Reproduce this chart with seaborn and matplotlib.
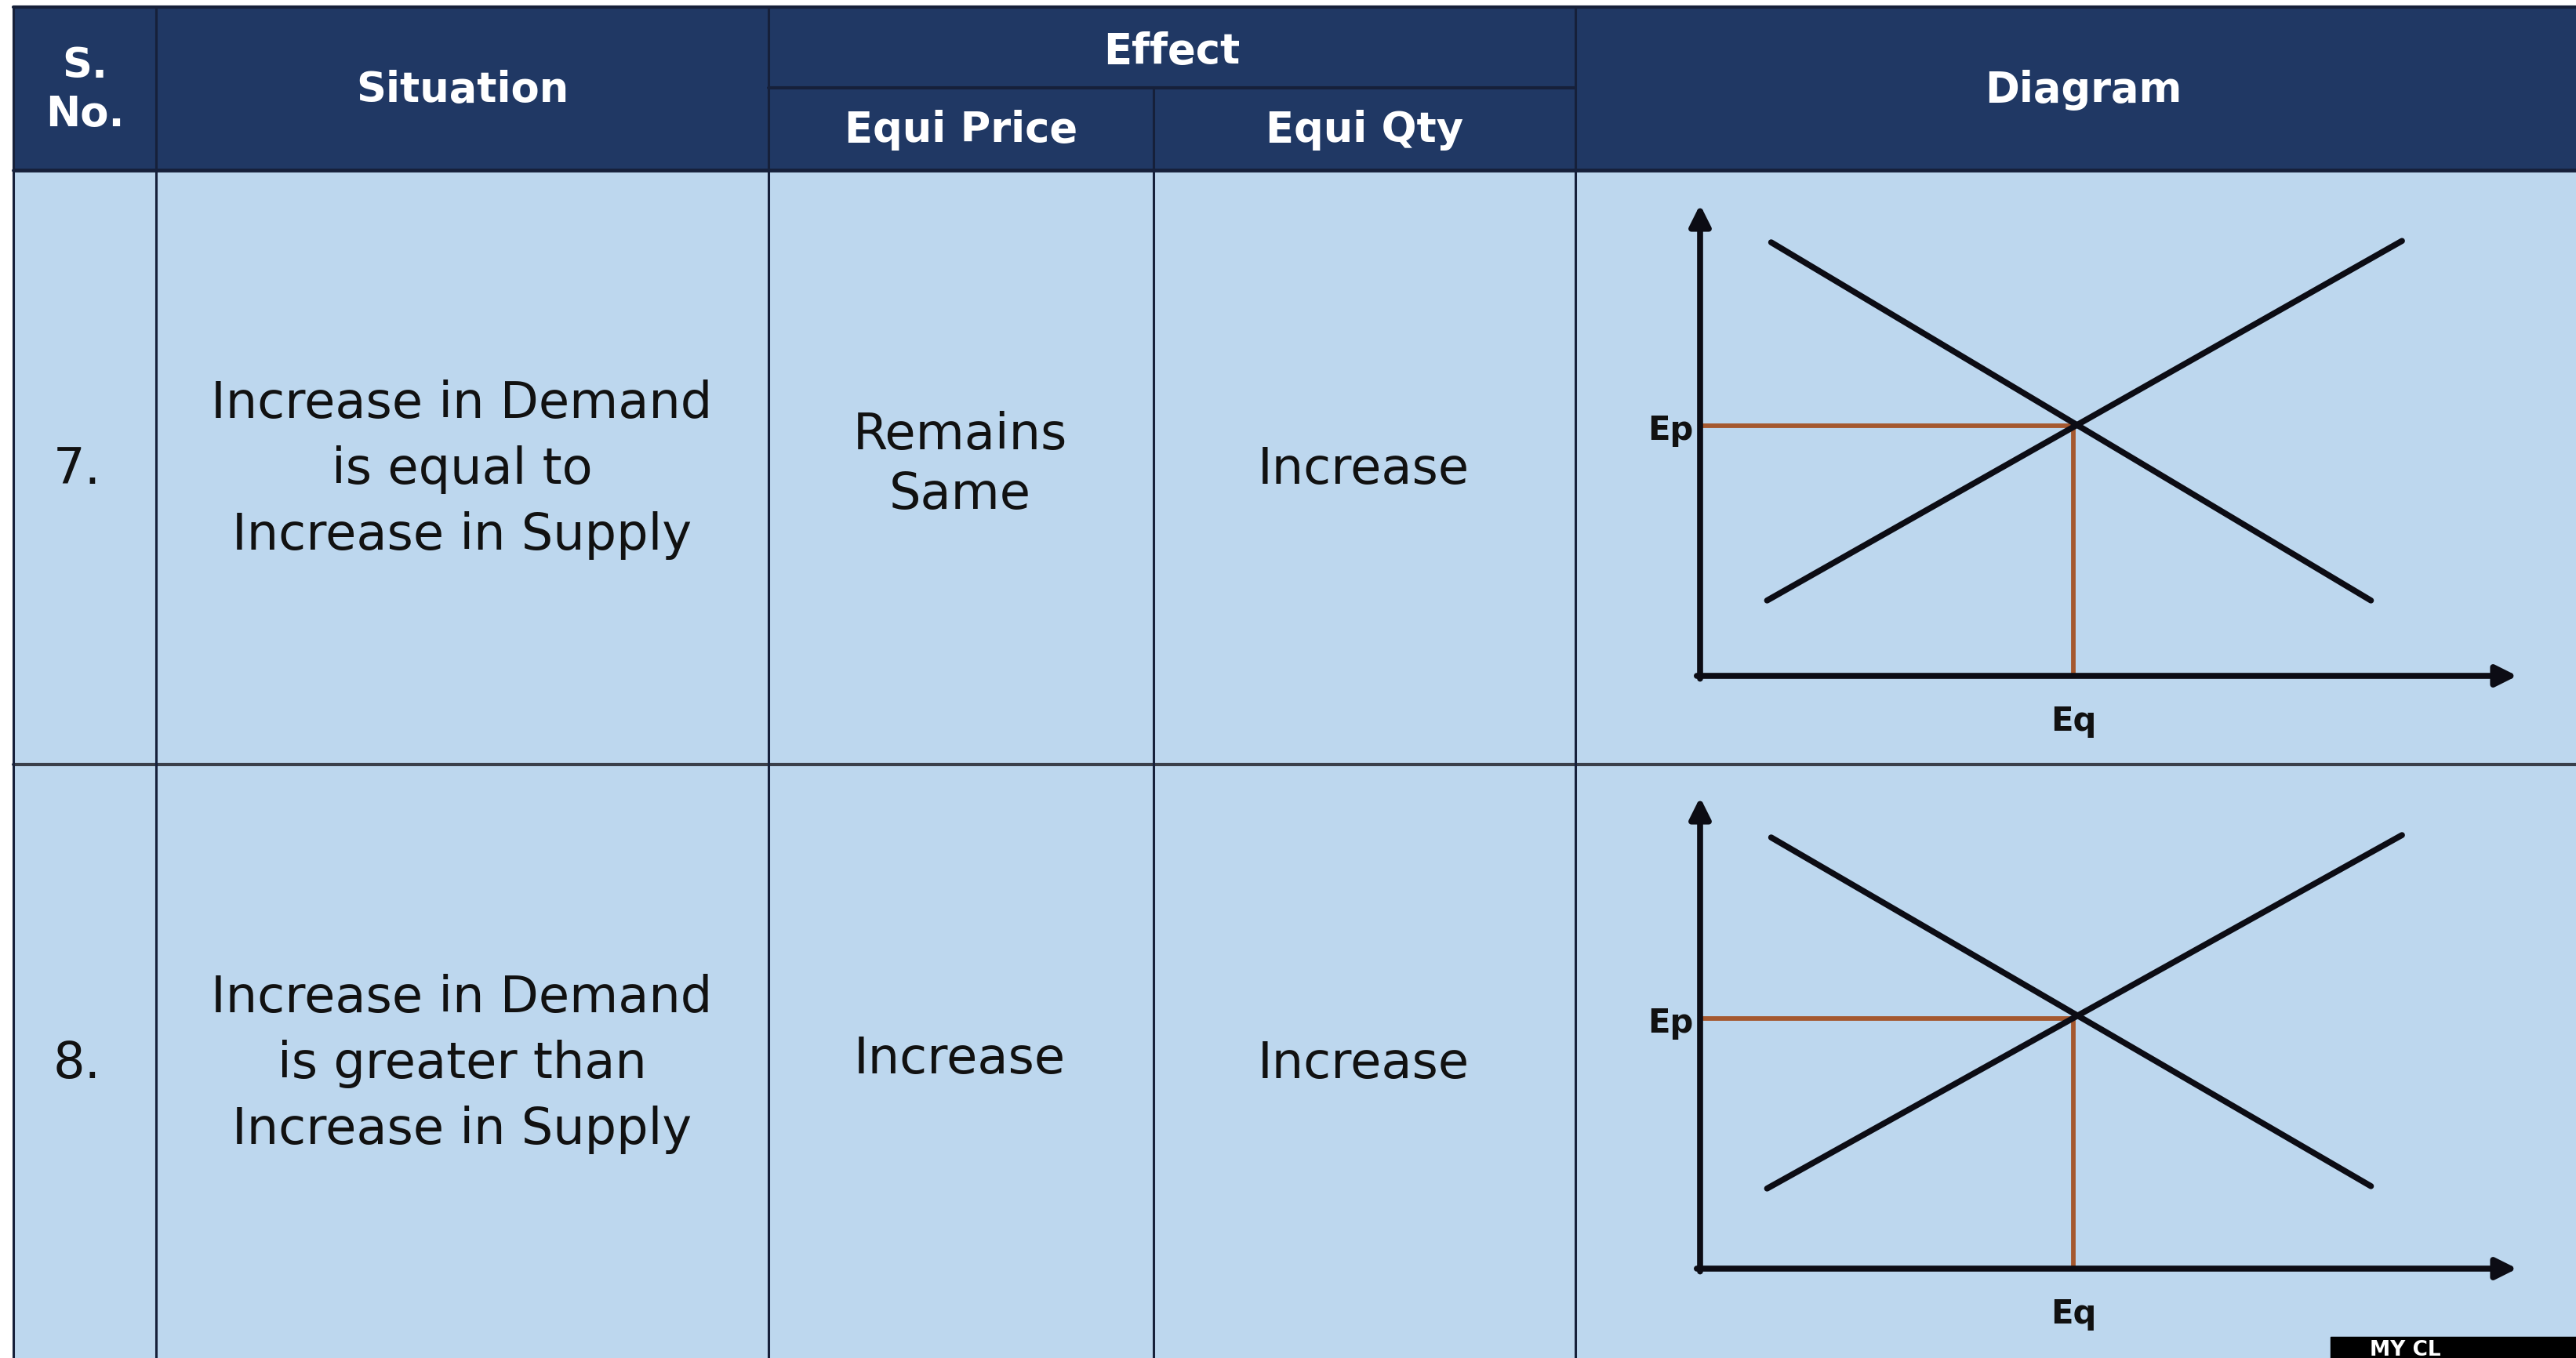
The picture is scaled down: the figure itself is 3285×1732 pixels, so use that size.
import numpy as np
import pandas as pd
import seaborn as sns
import matplotlib.pyplot as plt
from matplotlib.patches import Rectangle

sns.set_style("white")
plt.rcParams['font.family'] = ['DejaVu Sans']

# table content
serial_no = ['7.', '8.']
situations = ['Increase in Demand\nis equal to\nIncrease in Supply',
              'Increase in Demand\nis greater than\nIncrease in Supply']
equi_price = ['Remains\nSame', 'Increase']
equi_qty = ['Increase', 'Increase']
header_top = ['S.\nNo.', 'Situation', 'Effect', 'Diagram']
header_sub = ['Equi Price', 'Equi Qty']

# diagram lines (quantity on x, price on y, axis runs 0..10)
demand_q = [[0.87, 8.21], [0.87, 8.21]]
demand_p = [[9.20, 1.60], [9.15, 1.75]]
supply_q = [[0.82, 8.59], [0.82, 8.59]]
supply_p = [[1.60, 9.23], [1.70, 9.20]]
eq_qty = [4.57, 4.57]
eq_price = [5.30, 5.30]

NAVY = '#203864'
LIGHT = '#BDD7EE'
GRID = '#16203a'
BROWN = '#A5582F'
INK = '#111111'

W, H = 3285, 1733
fig = plt.figure(figsize=(W / 100, H / 100), dpi=100)
fig.patch.set_facecolor('white')

bg = fig.add_axes([0, 0, 1, 1])
bg.set_xlim(0, W)
bg.set_ylim(H, 0)
bg.axis('off')

cols = [17, 199, 980, 1471, 2009, W + 10]
head_top, head_mid, head_bot = 10, 113, 218
row_sep = 976
row_cy = [599, 1357]

bg.add_patch(Rectangle((cols[0], head_top), W, head_bot - head_top, color=NAVY, zorder=0))
bg.add_patch(Rectangle((cols[0], head_bot), W, H, color=LIGHT, zorder=0))

# grid
bg.plot([cols[0], W], [head_top, head_top], color=GRID, lw=3)
bg.plot([cols[0], W], [head_bot, head_bot], color=GRID, lw=3.5)
bg.plot([cols[2], cols[4]], [head_mid, head_mid], color=GRID, lw=3)
bg.plot([cols[0], W], [row_sep, row_sep], color='#3a3f4a', lw=3)
for i, x in enumerate(cols[:-1]):
    y0 = head_mid if i == 3 else head_top
    bg.plot([x, x], [y0, H], color=GRID, lw=2.2)

# header text
hkw = dict(color='white', fontsize=38, fontweight='bold', ha='center', va='center')
bg.text((cols[0] + cols[1]) / 2, 115, header_top[0], linespacing=1.25, **hkw)
bg.text((cols[1] + cols[2]) / 2, 115, header_top[1], **hkw)
bg.text((cols[2] + cols[4]) / 2, 66, header_top[2], **hkw)
bg.text((cols[4] + 3285 + 20) / 2, 115, header_top[3], **hkw)
bg.text((cols[2] + cols[3]) / 2, 166, header_sub[0], **hkw)
bg.text((cols[3] + cols[4]) / 2, 166, header_sub[1], **hkw)

# body text
bkw = dict(color=INK, fontsize=46, ha='center', va='center')
for r in range(2):
    cy = row_cy[r]
    bg.text(98, cy, serial_no[r], **bkw)
    bg.text(589, cy, situations[r], linespacing=1.45, **bkw)
    bg.text(1224, cy - 6, equi_price[r], linespacing=1.3, **bkw)
    bg.text(1739, cy, equi_qty[r], **bkw)

# watermark box bottom right
bg.add_patch(Rectangle((2972, 1706), 400, 100, color='black', zorder=3))
bg.text(3022, 1729, 'MY CL', color='white', fontsize=19, fontweight='bold',
        ha='left', va='baseline', zorder=4)

# diagrams
x0, x1 = 2168, 3210
for r in range(2):
    origin_y = 863 + r * 756
    ax = fig.add_axes([x0 / W, 1 - origin_y / H, (x1 - x0) / W, 601 / H])
    ax.set_xlim(0, 10)
    ax.set_ylim(0, 10)
    ax.axis('off')
    ax.patch.set_alpha(0)

    sns.lineplot(x=demand_q[r], y=demand_p[r], ax=ax, color='#0c0c14', lw=5.5)
    sns.lineplot(x=supply_q[r], y=supply_p[r], ax=ax, color='#0c0c14', lw=5.5)

    ax.plot([0, eq_qty[r]], [eq_price[r], eq_price[r]], color=BROWN, lw=4.2, zorder=1)
    ax.plot([eq_qty[r], eq_qty[r]], [0, eq_price[r]], color=BROWN, lw=4.2, zorder=1)

    arrow = dict(arrowstyle='-|>', lw=5.5, color='#0c0c14', mutation_scale=40,
                 shrinkA=0, shrinkB=0)
    ax.annotate('', xy=(10, 0), xytext=(-0.04, 0), arrowprops=arrow, annotation_clip=False)
    ax.annotate('', xy=(0, 10), xytext=(0, -0.06), arrowprops=arrow, annotation_clip=False)

    ax.annotate('Ep', xy=(0, eq_price[r]), xytext=(-6, -12), textcoords='offset points',
                ha='right', va='baseline', fontsize=30, fontweight='bold', color=INK)
    ax.annotate('Eq', xy=(eq_qty[r], 0), xytext=(0, -50), textcoords='offset points',
                ha='center', va='baseline', fontsize=30, fontweight='bold', color=INK)

fig.savefig('out.png', dpi=100)
